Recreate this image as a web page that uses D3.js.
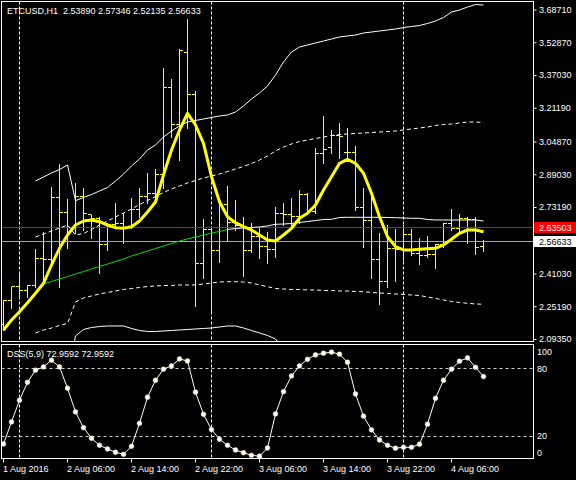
<!DOCTYPE html>
<html>
<head>
<meta charset="utf-8">
<script src="https://cdn.jsdelivr.net/npm/d3@7/dist/d3.min.js"></script>
<style>
  html, body { margin: 0; padding: 0; background: #000; }
  svg { display: block; }
  text { font-family: 'Liberation Sans', Arial, sans-serif; font-size: 9px; fill: #fff; white-space: pre; }
</style>
</head>
<body>
<svg width="576" height="480"></svg>
<script>
'use strict';

// ETCUSD H1, 61 hourly bars from 1 Aug 22:00
const open = [
  2.1613, 2.2788, 2.3465, 2.3257, 2.3499, 2.4839, 2.4756, 2.7769, 2.7029, 2.6304,
  2.7803, 2.6933, 2.6773, 2.5482, 2.6449, 2.6497, 2.6304, 2.7174, 2.7818, 2.7982,
  2.8867, 3.3089, 3.1319, 3.4781, 3.2770, 2.4597, 2.6207, 2.5206, 2.7416, 2.6560,
  2.6401, 2.5206, 2.5869, 2.5385, 2.5240, 2.6981, 2.6933, 2.6850, 2.7934, 2.7092,
  2.9883, 3.0187, 3.0801, 2.9979, 2.9965, 2.7271, 2.6643, 2.4790, 2.3707, 2.5322,
  2.5240, 2.5965, 2.5047, 2.4950, 2.4998, 2.5482, 2.6497, 2.6289, 2.6773, 2.6691,
  2.53890
];
const high = [
  2.2822, 2.3465, 2.4113, 2.3547, 2.5274, 2.6125, 2.8287, 2.9399, 2.7692, 2.8495,
  2.8238, 2.6933, 2.6836, 2.6531, 2.7498, 2.7015, 2.7740, 2.8224, 2.8949, 2.9143,
  3.4027, 3.3495, 3.4946, 3.6397, 3.2929, 2.6725, 2.6367, 2.7450, 2.8335, 2.7658,
  2.6850, 2.6560, 2.6367, 2.6125, 2.7334, 2.7498, 2.7740, 2.8142, 2.7997, 3.0158,
  3.1720, 3.1043, 3.1396, 3.1154, 3.0269, 2.8253, 2.8142, 2.6077, 2.6449, 2.6241,
  2.6449, 2.6241, 2.5806, 2.5917, 2.5516, 2.6531, 2.7208, 2.6966, 2.6821, 2.6812,
  2.57346
];
const low = [
  2.1371, 2.2421, 2.2982, 2.2982, 2.3465, 2.3547, 2.4660, 2.3465, 2.5322, 2.6048,
  2.6207, 2.5806, 2.4113, 2.5240, 2.6289, 2.5564, 2.6289, 2.6850, 2.7498, 2.7740,
  2.8238, 3.0719, 2.9592, 3.1125, 2.2532, 2.3871, 2.2179, 2.4674, 2.5724, 2.6207,
  2.3983, 2.5143, 2.4839, 2.4597, 2.4887, 2.6449, 2.6449, 2.6531, 2.7015, 2.7029,
  2.9433, 2.9916, 2.9675, 2.9592, 2.7174, 2.5400, 2.3871, 2.2614, 2.3465, 2.3741,
  2.4756, 2.4998, 2.4548, 2.4887, 2.4355, 2.5400, 2.6207, 2.6048, 2.5593, 2.5047,
  2.52135
];
const close = [
  2.2774, 2.3465, 2.3257, 2.3499, 2.4839, 2.4756, 2.7769, 2.7029, 2.6304, 2.7803,
  2.7015, 2.6773, 2.5482, 2.6449, 2.6497, 2.6304, 2.7174, 2.7818, 2.7982, 2.8867,
  3.3089, 3.1319, 3.4864, 3.2770, 2.4597, 2.6207, 2.5206, 2.7416, 2.6560, 2.6401,
  2.5206, 2.5869, 2.5385, 2.5240, 2.6981, 2.6933, 2.6850, 2.7934, 2.7092, 2.9883,
  3.0076, 3.0801, 3.0705, 2.9965, 2.7271, 2.6643, 2.4790, 2.3707, 2.5322, 2.5240,
  2.5965, 2.5047, 2.4950, 2.4998, 2.5482, 2.6497, 2.6289, 2.6773, 2.6691, 2.5351,
  2.56633
];

// smoothed moving average (thick yellow)
const smoothMa = [
  2.1371, 2.1855, 2.2256, 2.2691, 2.3146, 2.3630, 2.4515, 2.5322, 2.5965, 2.6449,
  2.6642, 2.6691, 2.6609, 2.6449, 2.6318, 2.6289, 2.6367, 2.6642, 2.7078, 2.7561,
  2.8867, 3.0076, 3.1043, 3.1851, 3.1285, 3.0400, 2.8785, 2.7576, 2.6850, 2.6560,
  2.6367, 2.6207, 2.5965, 2.5724, 2.5675, 2.5965, 2.6289, 2.6773, 2.7015, 2.7416,
  2.8142, 2.8785, 2.9433, 2.9626, 2.9433, 2.8949, 2.7982, 2.6850, 2.5883, 2.5400,
  2.5240, 2.5240, 2.5274, 2.5303, 2.5322, 2.5482, 2.5757, 2.6048, 2.6207, 2.6207,
  2.6125
];

// band middle, green part then white part
const middleGreen = [
  null, null, null, null, null,
  2.3596, 2.3717, 2.3838, 2.3958, 2.4079, 2.4200, 2.4321, 2.4442, 2.4563, 2.4684,
  2.4805, 2.4950, 2.5071, 2.5192, 2.5312, 2.5433, 2.5554, 2.5675, 2.5772, 2.5869,
  2.5965, 2.6062, 2.6135, 2.6231,
  null, null, null, null, null, null, null, null, null, null, null, null, null, null, null, null,
  null, null, null, null, null, null, null, null, null, null, null, null, null, null, null, null
];
const middleWhite = [
  null, null, null, null, null, null, null, null, null, null, null, null, null, null,
  null, null, null, null, null, null, null, null, null, null, null, null, null, null,
  2.6231, 2.6280, 2.6304, 2.6328, 2.6352, 2.6401, 2.6483, 2.6497, 2.6521, 2.6570,
  2.6618, 2.6666, 2.6715, 2.6725, 2.6812, 2.6821, 2.6821, 2.6821, 2.6821, 2.6821,
  2.6812, 2.6802, 2.6788, 2.6773, 2.6773, 2.6715, 2.6691, 2.6691, 2.6691, 2.6691,
  2.6691, 2.6691, 2.6642
];

const upperOuter = [
  null, null, null, null,
  2.8577, 2.8770, 2.8964, 2.9133, 2.9351, 2.7624, 2.7779, 2.7924, 2.8093, 2.8262,
  2.8577, 2.8915, 2.9302, 2.9641, 3.0076, 3.0318, 3.0705, 3.0995, 3.1237, 3.1430,
  3.1503, 3.1575, 3.1648, 3.1720, 3.1769, 3.1914, 3.2204, 3.2542, 3.2833, 3.3171,
  3.3703, 3.4332, 3.4815, 3.5057, 3.5154, 3.5251, 3.5347, 3.5444, 3.5541, 3.5589,
  3.5637, 3.5734, 3.5782, 3.5831, 3.5879, 3.5928, 3.6000, 3.6048, 3.6097, 3.6194,
  3.6314, 3.6484, 3.6750, 3.6846, 3.6991, 3.7112, 3.7088
];
const upperInner = [
  null, null, null, null,
  2.5869, 2.6014, 2.6159, 2.6304, 2.6449, 2.5965, 2.6038, 2.6231, 2.6449, 2.6642,
  2.6836, 2.7029, 2.7223, 2.7440, 2.7634, 2.7827, 2.8021, 2.8190, 2.8335, 2.8480,
  2.8601, 2.8722, 2.8819, 2.8915, 2.9036, 2.9157, 2.9278, 2.9423, 2.9592, 2.9786,
  3.0028, 3.0221, 3.0366, 3.0487, 3.0560, 3.0632, 3.0705, 3.0777, 3.0826, 3.0850,
  3.0874, 3.0898, 3.0922, 3.0946, 3.0971, 3.0995, 3.1043, 3.1092, 3.1140, 3.1188,
  3.1261, 3.1309, 3.1333, 3.1382, 3.1430, 3.1430, 3.1406
];
const lowerInner = [
  null, null, null, null,
  2.1226, 2.1371, 2.1468, 2.1589, 2.1685, 2.2725, 2.2919, 2.3015, 2.3112, 2.3185,
  2.3257, 2.3330, 2.3378, 2.3426, 2.3475, 2.3499, 2.3523, 2.3523, 2.3547, 2.3547,
  2.3547, 2.3596, 2.3644, 2.3692, 2.3707, 2.3707, 2.3692, 2.3644, 2.3547, 2.3465,
  2.3378, 2.3354, 2.3330, 2.3330, 2.3306, 2.3306, 2.3282, 2.3282, 2.3257, 2.3257,
  2.3233, 2.3223, 2.3185, 2.3161, 2.3136, 2.3112, 2.3088, 2.3064, 2.3040, 2.2967,
  2.2895, 2.2822, 2.2749, 2.2701, 2.2662, 2.2629, 2.2614
];
const lowerOuter = [
  null, null, null, null, null, null, null, null,
  1.8953, 2.1081, 2.1395, 2.1492, 2.1540, 2.1565, 2.1565, 2.1565, 2.1444, 2.1347,
  2.1299, 2.1299, 2.1323, 2.1347, 2.1371, 2.1395, 2.1420, 2.1444, 2.1468, 2.1516,
  2.1565, 2.1565, 2.1468, 2.1347, 2.1226, 2.1105, 2.0936, 2.0404,
  null, null, null, null, null, null, null, null, null, null, null, null, null,
  null, null, null, null, null, null, null, null, null, null, null, null
];

// DSS(5,9) oscillator
const dss = [
  13.2, 32.7, 52.0, 67.9, 78.6, 81.5, 87.5, 81.5, 62.6, 41.6,
  27.6, 18.2, 12.0, 8.7, 5.8, 4.0, 11.1, 31.5, 54.6, 69.7,
  79.5, 82.4, 88.6, 86.8, 59.1, 39.5, 25.9, 17.3, 12.0, 7.8,
  5.4, 3.1, 2.3, 9.6, 39.8, 59.6, 73.5, 82.4, 88.3, 92.2,
  93.7, 94.6, 92.8, 85.7, 57.5, 37.8, 25.6, 16.7, 12.0, 9.4,
  10.2, 10.2, 12.9, 30.7, 53.7, 69.7, 79.5, 86.6, 89.5, 81.2,
  72.9592
];
const dssLevels = [80, 20];
const dssLabels = [100, 80, 20, 0];

const priceTicks = [3.68710, 3.52870, 3.37030, 3.21190, 3.04870, 2.89030, 2.73190, 2.41030, 2.25190, 2.09350];
const levelPrice = 2.63503;
const bidPrice = 2.56633;

const timeLabels = ['1 Aug 2016', '2 Aug 06:00', '2 Aug 14:00', '2 Aug 22:00',
  '3 Aug 06:00', '3 Aug 14:00', '3 Aug 22:00', '4 Aug 06:00'];
const timeLabelBars = [0, 8, 16, 24, 32, 40, 48, 56];
const daySeparatorBars = [2, 26, 50];

const titleMain = 'ETCUSD,H1  2.53890 2.57346 2.52135 2.56633';
const titleDss = 'DSS(5,9) 72.9592 72.9592';

(function (d3) {

  const svg = d3.select('svg');

  const main = { left: 1.5, top: 1.5, right: 533.5, bottom: 341.5 };
  const sub = { left: 1.5, top: 344.5, right: 533.5, bottom: 458.5 };

  const xScale = d3.scaleLinear().domain([0, open.length - 1]).range([3.5, 483.5]);
  const yScale = d3.scaleLinear().domain([2.0935, 3.6871]).range([339, 9.5]);
  const dssScale = d3.scaleLinear().domain([0, 100]).range([458.8, 346.1]);

  const px = v => Math.round(v - 0.5) + 0.5;

  svg.append('rect').attr('width', 576).attr('height', 480).attr('fill', '#000');

  const defs = svg.append('defs');
  defs.append('clipPath').attr('id', 'clip-main')
    .append('rect').attr('x', 2).attr('y', 2).attr('width', 531).attr('height', 339);
  defs.append('clipPath').attr('id', 'clip-sub')
    .append('rect').attr('x', 2).attr('y', 345).attr('width', 531).attr('height', 113);

  const g = svg.append('g').attr('clip-path', 'url(#clip-main)');
  const gs = svg.append('g').attr('clip-path', 'url(#clip-sub)');

  // day separators
  [[g, main], [gs, sub]].forEach(([layer, box]) => {
    layer.selectAll('.sep').data(daySeparatorBars).enter().append('line')
      .attr('class', 'sep')
      .attr('x1', d => px(xScale(d))).attr('x2', d => px(xScale(d)))
      .attr('y1', box.top).attr('y2', box.bottom)
      .attr('stroke', '#fff').attr('stroke-dasharray', '3,2');
  });

  // OHLC bars
  const bars = g.selectAll('.bar').data(open.map((o, i) => i)).enter().append('g')
    .attr('class', 'bar')
    .attr('stroke', '#ffff00')
    .attr('stroke-width', 1);
  bars.append('line')
    .attr('x1', i => px(xScale(i))).attr('x2', i => px(xScale(i)))
    .attr('y1', i => Math.round(yScale(high[i]))).attr('y2', i => Math.round(yScale(low[i])) + 1);
  bars.append('line')
    .attr('x1', i => px(xScale(i)) - 3.5).attr('x2', i => px(xScale(i)))
    .attr('y1', i => px(yScale(open[i]))).attr('y2', i => px(yScale(open[i])));
  bars.append('line')
    .attr('x1', i => px(xScale(i))).attr('x2', i => px(xScale(i)) + 3.5)
    .attr('y1', i => px(yScale(close[i]))).attr('y2', i => px(yScale(close[i])));

  // horizontal level and bid line
  g.append('line')
    .attr('x1', main.left).attr('x2', main.right)
    .attr('y1', px(yScale(levelPrice))).attr('y2', px(yScale(levelPrice)))
    .attr('stroke', '#ff0000');
  g.append('line')
    .attr('x1', main.left).attr('x2', main.right)
    .attr('y1', px(yScale(bidPrice))).attr('y2', px(yScale(bidPrice)))
    .attr('stroke', '#a8a8a8');

  const line = d3.line()
    .defined(d => d != null)
    .x((d, i) => xScale(i))
    .y(d => yScale(d));

  const drawLine = (data, color, width, dash) => {
    g.append('path')
      .datum(data)
      .attr('d', line)
      .attr('fill', 'none')
      .attr('stroke', color)
      .attr('stroke-width', width)
      .attr('stroke-dasharray', dash)
      .attr('stroke-linejoin', 'round');
  };

  drawLine(upperOuter, '#fff', 1, null);
  drawLine(lowerOuter, '#fff', 1, null);
  drawLine(upperInner, '#fff', 1, '4,3');
  drawLine(lowerInner, '#fff', 1, '4,3');
  drawLine(middleGreen, '#00e000', 1, null);
  drawLine(middleWhite, '#fff', 1, null);
  drawLine(smoothMa, '#ffff00', 3, null);

  // frames
  [main, sub].forEach(box => {
    svg.append('rect')
      .attr('x', box.left).attr('y', box.top)
      .attr('width', box.right - box.left).attr('height', box.bottom - box.top)
      .attr('fill', 'none').attr('stroke', '#fff');
  });

  // price axis
  const yAxisG = svg.append('g')
    .attr('transform', `translate(${main.right},0)`)
    .call(d3.axisRight(yScale)
      .tickValues(priceTicks)
      .tickFormat(d3.format('.5f'))
      .tickSize(3)
      .tickPadding(2.5));
  yAxisG.select('.domain').remove();
  yAxisG.selectAll('.tick line').attr('stroke', '#fff');

  // level / bid labels
  const tagData = [
    { value: levelPrice, fill: '#ff0000', text: '#fff' },
    { value: bidPrice, fill: '#fff', text: '#000' }
  ];
  tagData.forEach(t => {
    const cy = px(yScale(t.value));
    svg.append('rect')
      .attr('x', main.right + 0.5).attr('y', cy - 5.5)
      .attr('width', 42).attr('height', 11)
      .attr('fill', t.fill);
    svg.append('text')
      .attr('x', 539).attr('y', cy + 3.5)
      .style('fill', t.text)
      .text(d3.format('.5f')(t.value));
  });

  // DSS levels
  gs.selectAll('.level').data(dssLevels).enter().append('line')
    .attr('class', 'level')
    .attr('x1', sub.left).attr('x2', sub.right)
    .attr('y1', d => px(dssScale(d))).attr('y2', d => px(dssScale(d)))
    .attr('stroke', '#d0d0d0').attr('stroke-dasharray', '3,3');

  const dssLine = d3.line()
    .x((d, i) => xScale(i))
    .y(d => dssScale(d));

  gs.append('path')
    .datum(dss)
    .attr('d', dssLine)
    .attr('fill', 'none')
    .attr('stroke', '#fff')
    .attr('stroke-width', 1);

  gs.selectAll('.dot').data(dss).enter().append('circle')
    .attr('class', 'dot')
    .attr('cx', (d, i) => xScale(i))
    .attr('cy', d => dssScale(d))
    .attr('r', 2.4)
    .attr('fill', '#fff')
    .attr('stroke', '#ffe8a0')
    .attr('stroke-width', 0.5);

  // DSS scale labels (clamped inside window like MT4)
  svg.selectAll('.dss-label').data(dssLabels).enter().append('text')
    .attr('class', 'dss-label')
    .attr('x', 537)
    .attr('y', d => Math.min(Math.max(dssScale(d), sub.top + 7), sub.bottom - 6) + 3)
    .text(d => d);

  // time axis
  svg.selectAll('.time-tick').data(timeLabelBars).enter().append('line')
    .attr('class', 'time-tick')
    .attr('x1', d => px(xScale(d))).attr('x2', d => px(xScale(d)))
    .attr('y1', sub.bottom).attr('y2', sub.bottom + 4)
    .attr('stroke', '#fff');

  svg.selectAll('.time-label').data(timeLabelBars).enter().append('text')
    .attr('class', 'time-label')
    .attr('x', d => xScale(d) - 0.5)
    .attr('y', 472)
    .text((d, i) => timeLabels[i]);

  // titles
  svg.append('text').attr('x', 7).attr('y', 14).text(titleMain);
  svg.append('text').attr('x', 7).attr('y', 357).text(titleDss);

}(d3));
</script>
</body>
</html>
